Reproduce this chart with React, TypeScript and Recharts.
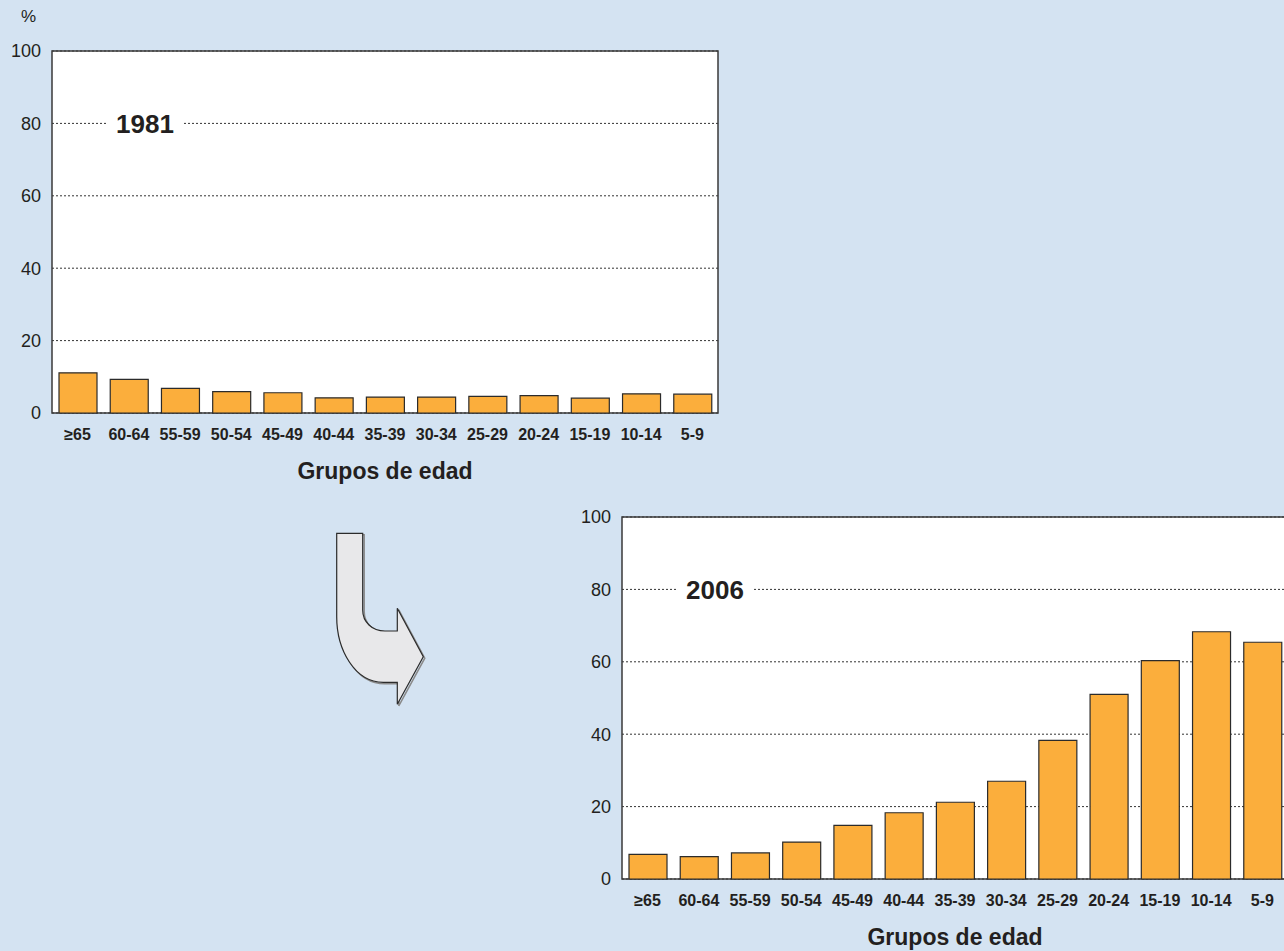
import { Bar, BarChart, CartesianGrid, ReferenceArea, XAxis, YAxis } from "recharts";

const categories = [
  "≥65", "60-64", "55-59", "50-54", "45-49", "40-44", "35-39",
  "30-34", "25-29", "20-24", "15-19", "10-14", "5-9",
];
const values1981 = [11.1, 9.3, 6.8, 5.9, 5.6, 4.2, 4.4, 4.4, 4.6, 4.8, 4.1, 5.3, 5.2];
const values2006 = [6.8, 6.2, 7.2, 10.2, 14.8, 18.3, 21.2, 27.0, 38.3, 51.0, 60.3, 68.3, 65.4];
const yTicks = [0, 20, 40, 60, 80, 100];

const ink = "#231f20";
const bg = "#d4e3f2";

interface PanelProps {
  left: number;
  top: number;
  year: string;
  values: number[];
  showPercent?: boolean;
}

const Panel = ({ left, top, year, values, showPercent }: PanelProps) => {
  const data = categories.map((group, i) => ({ group, value: values[i] }));
  return (
    <div style={{ position: "absolute", left, top, width: 740, height: 485 }}>
      {showPercent && (
        <div style={{ position: "absolute", left: 21, top: 7, fontSize: 17, color: ink }}>%</div>
      )}
      <BarChart
        width={740}
        height={485}
        data={data}
        margin={{ top: 51, right: 22, left: 0, bottom: 0 }}
      >
        <CartesianGrid vertical={false} fill="#ffffff" stroke="#333" strokeDasharray="2 2" />
        <XAxis
          dataKey="group"
          interval={0}
          tickLine={false}
          axisLine={false}
          tickMargin={10}
          height={72}
          tick={{ fontSize: 16, fontWeight: "bold", fill: ink }}
          label={{
            value: "Grupos de edad",
            position: "insideBottom",
            offset: 6,
            fontSize: 23,
            fontWeight: "bold",
            fill: ink,
          }}
        />
        <YAxis
          domain={[0, 100]}
          ticks={yTicks}
          width={52}
          tickLine={false}
          axisLine={false}
          tickMargin={5}
          tick={{ fontSize: 18, fill: ink }}
        />
        <ReferenceArea y1={0} y2={100} fill="none" stroke="#3a3a3a" strokeWidth={1.5} ifOverflow="visible" />
        <Bar dataKey="value" fill="#fbae3c" stroke="#2b2b2b" strokeWidth={1.2} barSize={38} isAnimationActive={false} />
      </BarChart>
      <div
        style={{
          position: "absolute",
          left: 106,
          top: 110,
          padding: "0 10px",
          background: "#ffffff",
          fontSize: 26,
          lineHeight: "28px",
          fontWeight: "bold",
          color: ink,
        }}
      >
        {year}
      </div>
    </div>
  );
};

export default function App() {
  return (
    <div
      style={{
        position: "absolute",
        left: 0,
        top: 0,
        width: 1284,
        height: 951,
        overflow: "hidden",
        background: bg,
        fontFamily: "'Liberation Sans', Arial, sans-serif",
      }}
    >
      <Panel left={0} top={0} year="1981" values={values1981} showPercent />
      <Panel left={570} top={466} year="2006" values={values2006} />
      <svg width={1284} height={951} style={{ position: "absolute", left: 0, top: 0, pointerEvents: "none" }}>
        <path
          d="M338.2,534.8 L364.2,534.8 L364.2,611.5 C364.2,623.5 373.5,632.5 386.5,632.5 L398.8,632.5 L398.8,609.8 L424.8,658.2 L398.8,705.8 L398.8,683.8 L384.8,683.8 C356.5,683.8 338.2,651.5 338.2,618.2 Z"
          fill="none"
          stroke="#8a8a8a"
          strokeWidth={1.5}
        />
        <path
          d="M336.7,533.3 L362.7,533.3 L362.7,610 C362.7,622 372,631 385,631 L397.3,631 L397.3,608.3 L423.3,656.7 L397.3,704.3 L397.3,682.3 L383.3,682.3 C355,682.3 336.7,650 336.7,616.7 Z"
          fill="#e8e8ea"
          stroke="#2b2b2b"
          strokeWidth={1.2}
        />
      </svg>
    </div>
  );
}
